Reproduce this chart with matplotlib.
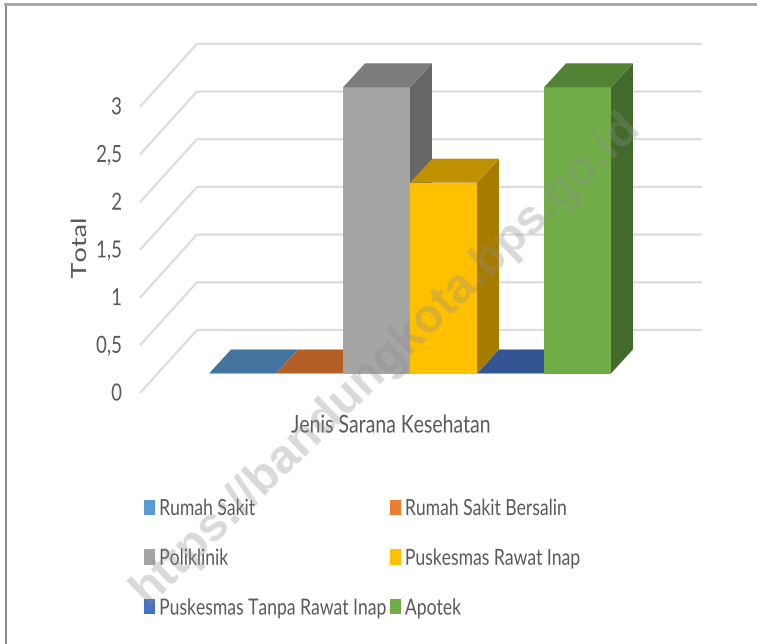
import matplotlib
matplotlib.use('Agg')
import matplotlib.pyplot as plt
from matplotlib.patches import Polygon, Patch
from matplotlib.patheffects import AbstractPathEffect
from matplotlib.transforms import Affine2D

plt.rcParams['font.family'] = ['Lato', 'DejaVu Sans']

# data
categories = ['Rumah Sakit', 'Rumah Sakit Bersalin', 'Poliklinik',
              'Puskesmas Rawat Inap', 'Puskesmas Tanpa Rawat Inap', 'Apotek']
values = [0, 0, 3, 2, 0, 3]
y_ticks = [0, 0.5, 1, 1.5, 2, 2.5, 3]
y_tick_labels = ['0', '0,5', '1', '1,5', '2', '2,5', '3']

front_colors = ['#5b9bd5', '#ed7d31', '#a5a5a5', '#ffc000', '#4472c4', '#70ad47']
top_colors = ['#44739f', '#b25e24', '#7c7c7c', '#bf9000', '#335593', '#548235']
side_colors = ['#37608a', '#8e4b1d', '#666666', '#a67c00', '#2c4a80', '#436a2b']

W, H = 757, 644
UX = 67.0      # pixels per bar
UY = 95.4      # pixels per unit of value
X0, Y0 = 209, 373.5  # pixel of first bar base
GREY = '#595959'
SQUEEZE = 0.79


class Stretch(AbstractPathEffect):
    # the reference text is a narrow font pulled out of shape, scale along the baseline
    def __init__(self, sx):
        super().__init__()
        self.sx = sx

    def draw_path(self, renderer, gc, tpath, affine, rgbFace=None):
        renderer.draw_path(gc, tpath, Affine2D().scale(self.sx, 1) + affine, rgbFace)


fig = plt.figure(figsize=(W / 100, H / 100), dpi=100)
ax = fig.add_axes([0, 0, 1, 1])
ax.set_xlim(-X0 / UX, (W - X0) / UX)
ax.set_ylim(-(H - Y0) / UY, Y0 / UY)
ax.axis('off')
rend = fig.canvas.get_renderer()


def label(x, y, s, size, frac=0.0, sx=SQUEEZE):
    # frac: 0 left aligned, 0.5 centred, 1 right aligned, after squeezing
    t = ax.text(x, y, s, ha='left', va='center', fontsize=size, color=GREY)
    w = t.get_window_extent(rend).width
    t.set_x(x - frac * w * sx / UX)
    t.set_path_effects([Stretch(sx)])
    return t


# depth offsets of the fake 3d
bar_dx, bar_dy = 22 / UX, 24 / UY
wall_left = -69 / UX
wall_back = -12 / UX
wall_right = 493 / UX
front_dy = -19.5 / UY
back_dy = 43.5 / UY

# gridlines: floor edge going back to the wall, then along it
for v in y_ticks:
    ax.plot([wall_left, wall_back, wall_right],
            [v + front_dy, v + back_dy, v + back_dy],
            color='#dcdcdc', lw=1.6, zorder=1, solid_capstyle='butt')

# bars
xs = list(range(len(values)))
for i in xs:
    x, v = xs[i], values[i]
    ax.bar(x, v, width=1, align='edge', color=front_colors[i], zorder=3 + i)
    ax.add_patch(Polygon([(x, v), (x + bar_dx, v + bar_dy), (x + 1 + bar_dx, v + bar_dy), (x + 1, v)],
                         closed=True, fc=top_colors[i], ec='none', zorder=3 + i))
    ax.add_patch(Polygon([(x + 1, 0), (x + 1 + bar_dx, bar_dy), (x + 1 + bar_dx, v + bar_dy), (x + 1, v)],
                         closed=True, fc=side_colors[i], ec='none', zorder=3 + i))

# tick labels
for v, lab in zip(y_ticks, y_tick_labels):
    label(-87 / UX, v + front_dy - 1 / UY, lab, 17, frac=1)

label(182 / UX, -51.5 / UY, 'Jenis Sarana Kesehatan', 17.7, frac=0.5)
tot = ax.text(-129 / UX, 95 / UY, 'Total', rotation=90, rotation_mode='anchor', ha='left',
              va='center', fontsize=15, color=GREY)
tot.set_path_effects([Stretch(1.3)])

# legend, column order
order = [0, 2, 4, 1, 3, 5]
handles = [Patch(fc=front_colors[i], ec='none') for i in order]
labels = [categories[i] for i in order]
leg = ax.legend(handles, labels, ncol=2, frameon=False, fontsize=16, labelcolor=GREY,
                loc='upper left', bbox_to_anchor=(144 / W, 1 - 499 / H), borderpad=0,
                borderaxespad=0, handlelength=0.5, handleheight=0.68, handletextpad=0.18,
                columnspacing=-2.62, labelspacing=1.34)
for t in leg.get_texts():
    t.set_path_effects([Stretch(SQUEEZE)])

# screenshot frame
fig.add_artist(plt.Line2D([5.5 / W, 5.5 / W], [0.1 / H, 1 - 4 / H], color='#8c8c8c', lw=1.5))
fig.add_artist(plt.Line2D([5 / W, 1], [1 - 4 / H, 1 - 4 / H], color='#a6a6a6', lw=2))

# watermark
ax.text(386 / W, 1 - 358 / H, 'https://bandungkota.bps.go.id', transform=ax.transAxes,
        rotation=44, rotation_mode='anchor', ha='center', va='center', fontsize=34.5,
        fontweight='bold', color='#8c8c8c', alpha=0.33, zorder=20, family='Liberation Sans')

fig.savefig('out.png', dpi=100)
